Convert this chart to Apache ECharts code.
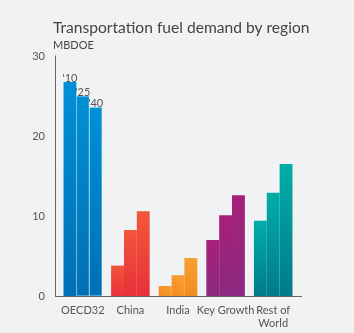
<!DOCTYPE html>
<html><head><meta charset="utf-8">
<script src="https://cdn.jsdelivr.net/npm/echarts@6/dist/echarts.min.js"></script>
<style>html,body{margin:0;padding:0;background:#f1f2f4;}#c{width:354px;height:333px;}</style>
</head><body><div id="c"></div>
<script>
const categories = ['OECD32', 'China', 'India', 'Key Growth', 'Rest of\nWorld'];
const yearLabels = ["'10", "'25", "'40"];
const values2010 = [26.75, 3.8, 1.25, 7.0, 9.4];
const values2025 = [25.0, 8.25, 2.6, 10.1, 12.9];
const values2040 = [23.6, 10.6, 4.75, 12.6, 16.5];
const yTicks = [0, 10, 20, 30];

const palette = [
  ['#0070b5', '#0090d6'],
  ['#e8303a', '#f2573a'],
  ['#f48a1f', '#f7a035'],
  ['#8a2a80', '#a81f78'],
  ['#007a8a', '#00aea8']
];
function grad(i){
  return new echarts.graphic.LinearGradient(0, 1, 1, 0, [
    {offset: 0, color: palette[i][0]}, {offset: 1, color: palette[i][1]}
  ]);
}
function mk(vals, idx){
  return {
    type: 'bar', name: yearLabels[idx], barGap: '0%', barCategoryGap: '19%',
    data: vals.map((v, i) => ({
      value: v,
      itemStyle: {color: grad(i), borderColor: 'rgba(255,255,255,0.25)', borderWidth: (i === 0 && idx > 0) ? 0.6 : 0},
      label: i === 0 ? {show: true, position: 'top', distance: -2, formatter: yearLabels[idx], color: '#555', fontSize: 11, fontFamily: 'Lato'} : {show: false}
    }))
  };
}
const chart = echarts.init(document.getElementById('c'), null, {renderer: 'canvas'});
chart.setOption({
  backgroundColor: '#f1f2f4',
  animation: false,
  title: {
    text: 'Transportation fuel demand by region', subtext: 'MBDOE',
    left: 48, top: 15, itemGap: 4,
    textStyle: {fontFamily: 'Lato', fontSize: 15.6, fontWeight: 'normal', color: '#444'},
    subtextStyle: {fontFamily: 'Lato', fontSize: 11, color: '#444'}
  },
  grid: {left: 59, right: 57, top: 56, bottom: 37},
  xAxis: {
    type: 'category', data: categories,
    axisLine: {show: false}, axisTick: {show: false},
    axisLabel: {interval: 0, color: '#555', fontFamily: 'Lato', fontSize: 11, margin: 8, lineHeight: 13}
  },
  yAxis: {
    type: 'value', min: yTicks[0], max: yTicks[yTicks.length - 1], interval: 10, offset: 4,
    splitLine: {show: false}, axisTick: {show: false},
    axisLine: {show: true, lineStyle: {color: '#666', width: 1}},
    axisLabel: {color: '#555', fontFamily: 'Lato', fontSize: 11, margin: 10}
  },
  graphic: [{type: 'line', shape: {x1: 55, y1: 296.5, x2: 302, y2: 296.5}, style: {stroke: '#666', lineWidth: 1.2}, z: 10}],
  series: [mk(values2010, 0), mk(values2025, 1), mk(values2040, 2)]
});
</script></body></html>
